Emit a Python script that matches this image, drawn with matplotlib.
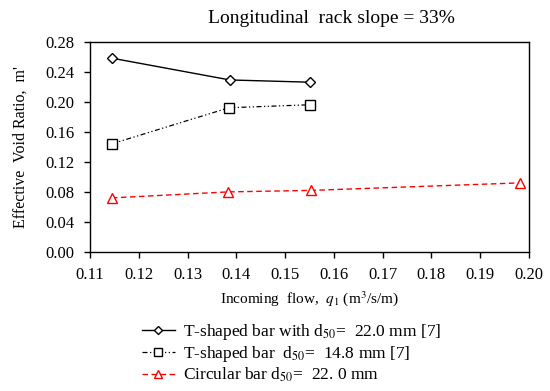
import matplotlib
matplotlib.use("Agg")
import matplotlib.pyplot as plt

plt.rcParams['font.family'] = ['Liberation Serif', 'DejaVu Serif']
plt.rcParams['mathtext.fontset'] = 'stix'

x_t22 = [0.1145, 0.1387, 0.1552]
y_t22 = [0.258, 0.229, 0.226]
x_t148 = [0.1145, 0.1385, 0.1551]
y_t148 = [0.144, 0.192, 0.196]
x_circ = [0.1145, 0.1383, 0.1554, 0.1981]
y_circ = [0.072, 0.080, 0.082, 0.092]

labels = ["T-shaped bar with d$_{50}$=  22.0 mm [7]",
          "T-shaped bar  d$_{50}$=  14.8 mm [7]",
          "Circular bar d$_{50}$=  22. 0 mm"]
xticks = [0.11, 0.12, 0.13, 0.14, 0.15, 0.16, 0.17, 0.18, 0.19, 0.20]
yticks = [0.00, 0.04, 0.08, 0.12, 0.16, 0.20, 0.24, 0.28]

fig = plt.figure(figsize=(5.5, 3.91), dpi=100)
ax = fig.add_axes([0.1636, 0.3555, 0.798, 0.538])

l1, = ax.plot(x_t22, y_t22, color='black', lw=1.0, marker='D', ms=5.5,
              mfc='white', mec='black', mew=1.0)
l2, = ax.plot(x_t148, y_t148, color='black', lw=0.9, ls=(0, (4, 2, 1, 2, 1, 2)),
              marker='s', ms=7.5, mfc='white', mec='black', mew=1.0)
l3, = ax.plot(x_circ, y_circ, color='red', lw=1.0, ls=(0, (4, 2.5)),
              marker='^', ms=7.5, mfc='white', mec='red', mew=1.0)

ax.set_xlim(0.11, 0.20)
ax.set_ylim(0.0, 0.28)
ax.set_xticks(xticks)
ax.set_xticklabels([f"{v:.2f}" for v in xticks])
ax.set_yticks(yticks)
ax.set_yticklabels([f"{v:.2f}" for v in yticks])
ax.tick_params(direction='out', length=4, width=1, labelsize=12, colors='black', pad=7)
for s in ax.spines.values():
    s.set_linewidth(1.0)

ax.set_xlabel("Incoming  flow,  $q_1$ (m$^3$/s/m)", fontsize=11, labelpad=4)
ax.set_ylabel("Effective  Void Ratio,  m'", fontsize=11.5, labelpad=12)

fig.text(0.602, 0.953, "Longitudinal  rack slope = 33%", fontsize=14,
         ha='center', va='center')

fig.legend([l1, l2, l3], labels, loc='upper left',
           bbox_to_anchor=(0.258, 0.177), frameon=False, fontsize=12.5,
           handlelength=1.9, handletextpad=0.45, labelspacing=0.12,
           markerscale=0.75, borderaxespad=0, borderpad=0)

fig.savefig("out.png", dpi=100)
